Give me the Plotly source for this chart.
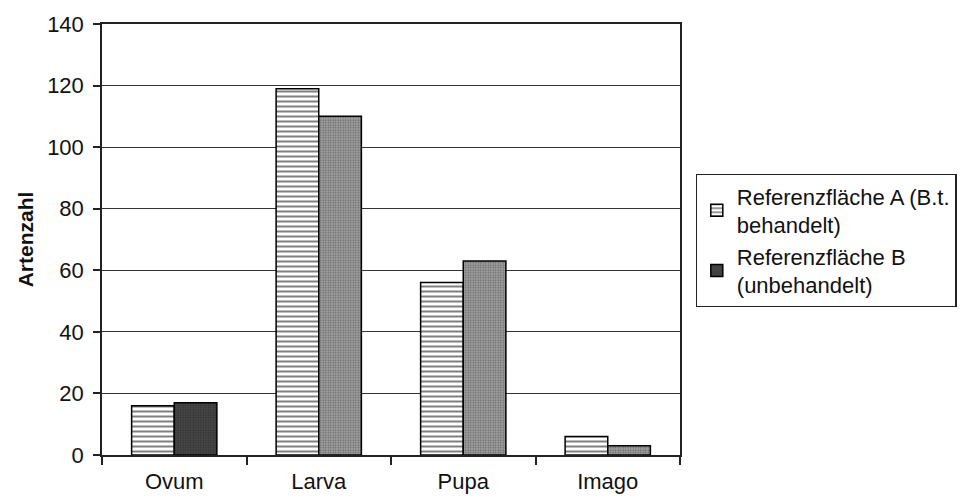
import plotly.graph_objects as go

# Developmental stages and species counts per reference plot
stages = ["Ovum", "Larva", "Pupa", "Imago"]
flaeche_a = [16, 119, 56, 6]    # Referenzfläche A (B.t. behandelt)
flaeche_b = [17, 110, 63, 3]    # Referenzfläche B (unbehandelt)
y_ticks = [0, 20, 40, 60, 80, 100, 120, 140]

name_a = "Referenzfläche A (B.t.<br>behandelt)"
name_b = "Referenzfläche B<br>(unbehandelt)"

FONT = "Liberation Sans, Arial, sans-serif"
FS = 22

fig = go.Figure()
fig.add_trace(go.Bar(
    x=stages, y=flaeche_a, name=name_a,
    marker=dict(
        color="white",
        line=dict(color="black", width=1.5),
        pattern=dict(shape="-", fgcolor="black", bgcolor="white",
                     size=5, solidity=0.4, fillmode="overlay"),
    ),
))
fig.add_trace(go.Bar(
    x=stages, y=flaeche_b, name=name_b,
    marker=dict(
        color="#8c8c8c",
        line=dict(color="black", width=1.5),
        pattern=dict(shape=".", fgcolor=["#2e2e2e", "#606060", "#606060", "#606060"],
                     bgcolor=["#474747", "#a0a0a0", "#a0a0a0", "#a0a0a0"],
                     size=2.5, solidity=0.3, fillmode="replace"),
    ),
))

fig.update_layout(
    width=972, height=502,
    barmode="group", bargap=0.41, bargroupgap=0,
    plot_bgcolor="white", paper_bgcolor="white",
    margin=dict(l=102, r=292, t=24, b=47, autoexpand=False),
    font=dict(family=FONT, size=FS, color="#111"),
    showlegend=True,
    legend=dict(
        x=1.027, xanchor="left", y=0.652, yanchor="top",
        bordercolor="#222", borderwidth=1.2, bgcolor="white",
        font=dict(family=FONT, size=22, color="#111"),
        tracegroupgap=5, itemwidth=30, traceorder="normal",
    ),
)

fig.update_xaxes(
    type="category", showline=True, linecolor="#222", linewidth=1.5,
    mirror=True, ticks="outside", tickson="boundaries", ticklen=8,
    tickcolor="#222", tickwidth=1.5, showgrid=False, ticklabelstandoff=6,
    tickfont=dict(family=FONT, size=FS, color="#111"),
)
fig.update_yaxes(
    range=[0, 140], tickvals=y_ticks, showline=True, linecolor="#222",
    linewidth=1.5, mirror=True, ticks="outside", ticklen=7,
    tickcolor="#222", tickwidth=1.5, showgrid=True, gridcolor="#333",
    gridwidth=1, zeroline=False, ticklabelstandoff=5,
    tickfont=dict(family=FONT, size=FS, color="#111"),
    title=dict(text="<b>Artenzahl</b>", standoff=8,
               font=dict(family=FONT, size=21, color="#111")),
)

fig.write_html("out.html")
